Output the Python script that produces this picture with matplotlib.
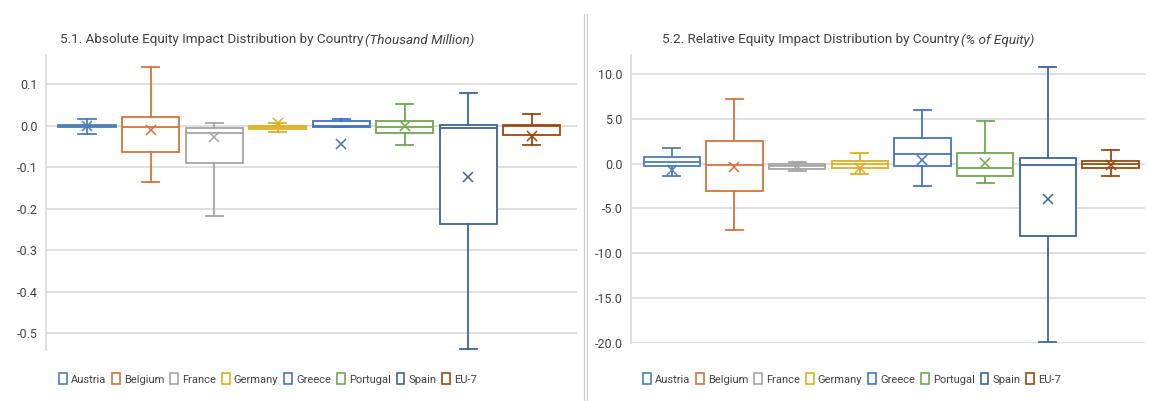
import numpy as np
import matplotlib
matplotlib.use("Agg")
import matplotlib.pyplot as plt
from matplotlib.patches import Patch
from matplotlib.lines import Line2D

plt.rcParams['font.family'] = ['Roboto', 'DejaVu Sans']

countries = ['Austria', 'Belgium', 'France', 'Germany', 'Greece', 'Portugal', 'Spain', 'EU-7']
colors = ['#4E7FB5', '#D6733A', '#A5A5A5', '#E0AE22', '#4472C4', '#72A852', '#3C6690', '#9E480E']

# 5.1 absolute impact (thousand million)
abs_lo = [-0.020, -0.136, -0.218, -0.014, -0.002, -0.047, -0.538, -0.046]
abs_q1 = [-0.003, -0.063, -0.090, -0.008, -0.002, -0.017, -0.236, -0.021]
abs_med = [0.000, -0.003, -0.017, -0.003, -0.001, -0.003, -0.004, -0.001]
abs_q3 = [0.003, 0.022, -0.004, 0.001, 0.013, 0.013, 0.002, 0.002]
abs_hi = [0.017, 0.143, 0.006, 0.008, 0.016, 0.053, 0.079, 0.030]
abs_mean = [0.000, -0.010, -0.026, 0.006, -0.043, -0.001, -0.124, -0.024]

# 5.2 relative impact (% of equity)
rel_lo = [-1.39, -7.43, -0.80, -1.12, -2.47, -2.17, -19.9, -1.39]
rel_q1 = [-0.30, -3.10, -0.64, -0.45, -0.30, -1.39, -8.03, -0.50]
rel_med = [0.19, -0.15, -0.30, -0.08, 1.08, -0.45, -0.12, -0.08]
rel_q3 = [0.75, 2.50, 0.00, 0.30, 2.80, 1.23, 0.63, 0.34]
rel_hi = [1.71, 7.24, 0.15, 1.23, 6.00, 4.77, 10.8, 1.52]
rel_mean = [-0.75, -0.34, -0.30, -0.50, 0.37, 0.08, -4.00, -0.15]

W, H = 1149, 401
fig = plt.figure(figsize=(W / 100, H / 100), dpi=100)


def px_axes(x0, y0, x1, y1):
    return fig.add_axes([x0 / W, 1 - y1 / H, (x1 - x0) / W, (y1 - y0) / H])


def draw_box(ax, lo, q1, med, q3, hi, mean, yticks, fmt, ylim, xlim):
    for i in range(len(countries)):
        st = [dict(whislo=lo[i], q1=q1[i], med=med[i], q3=q3[i], whishi=hi[i],
                   mean=mean[i], fliers=[])]
        c = colors[i]
        ax.bxp(st, positions=[i], widths=0.9, capwidths=0.27, showmeans=True,
               patch_artist=True, manage_ticks=False,
               boxprops=dict(facecolor='white', edgecolor=c, linewidth=1.3),
               medianprops=dict(color=c, linewidth=1.3),
               whiskerprops=dict(color=c, linewidth=1.3),
               capprops=dict(color=c, linewidth=1.3),
               meanprops=dict(marker='x', markeredgecolor=c, markersize=7,
                              markeredgewidth=1.1))
    ax.set_xlim(*xlim)
    ax.set_ylim(*ylim)
    ax.set_yticks(yticks)
    ax.set_yticklabels([fmt % v for v in yticks], fontsize=9, color='#404040')
    ax.set_xticks([])
    ax.yaxis.grid(True, color='#D9D9D9', linewidth=1.2)
    ax.set_axisbelow(True)
    for s in ['top', 'right', 'bottom']:
        ax.spines[s].set_visible(False)
    ax.spines['left'].set_color('#D9D9D9')
    ax.spines['left'].set_linewidth(1.2)
    ax.tick_params(axis='y', length=0, pad=6)


ax1 = px_axes(46, 55, 577, 350)
draw_box(ax1, abs_lo, abs_q1, abs_med, abs_q3, abs_hi, abs_mean,
         [-0.5, -0.4, -0.3, -0.2, -0.1, 0.0, 0.1], '%.1f', (-0.54, 0.171), (-0.645, 7.71))

ax2 = px_axes(631, 55, 1145, 343)
draw_box(ax2, rel_lo, rel_q1, rel_med, rel_q3, rel_hi, rel_mean,
         [-20, -15, -10, -5, 0, 5, 10], '%.1f', (-20, 12.1), (-0.65, 7.55))

# titles: normal part followed by italic part
renderer = fig.canvas.get_renderer()
for x0, main, it in [(60, '5.1. Absolute Equity Impact Distribution by Country', '(Thousand Million)'),
                     (662, '5.2. Relative Equity Impact Distribution by Country', '(% of Equity)')]:
    t = fig.text(x0 / W, 1 - 40 / H, main, fontsize=9.7, color='#404040', va='center', ha='left')
    bb = t.get_window_extent(renderer)
    fig.text((bb.x1 + 2) / W, 1 - 40 / H, it, fontsize=9.7, color='#404040', va='center',
             ha='left', style='italic')

# legends
handles = [Patch(facecolor='white', edgecolor=c, linewidth=1.2, label=n) for n, c in zip(countries, colors)]
for cx in [268, 852]:
    fig.legend(handles=handles, loc='center', bbox_to_anchor=(cx / W, 1 - 379 / H), ncol=8,
               frameon=False, fontsize=8, handlelength=0.7, handleheight=1.1,
               handletextpad=0.35, columnspacing=0.55, labelcolor='#404040')

# separator between the two charts
for xs in [584, 587]:
    fig.add_artist(Line2D([xs / W, xs / W], [0, 1 - 14 / H], color='#D0D0D0', linewidth=0.9))

fig.savefig('out.png', dpi=100)
